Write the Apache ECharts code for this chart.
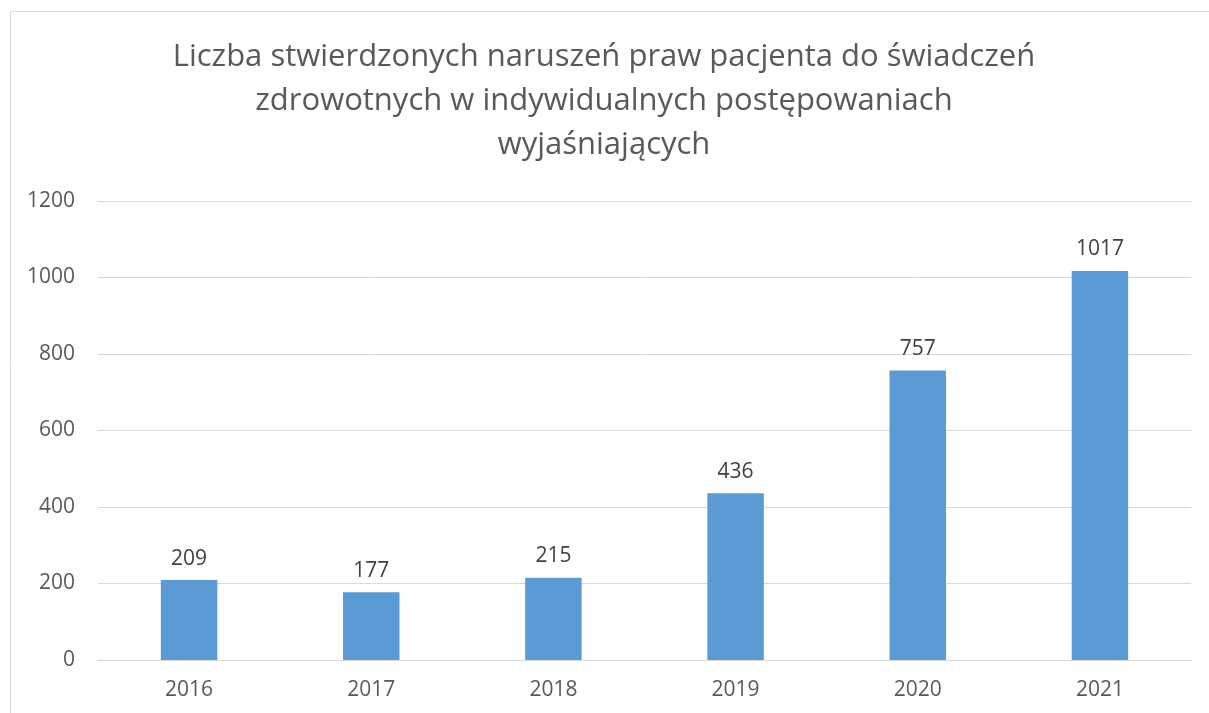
<!DOCTYPE html>
<html><head><meta charset="utf-8">
<script src="https://cdn.jsdelivr.net/npm/echarts@6/dist/echarts.min.js"></script>
<style>html,body{margin:0;padding:0;background:#fff}#c{width:1209px;height:713px}</style>
</head><body><div id="c"></div>
<script>
const titleText = "Liczba stwierdzonych naruszeń praw pacjenta do świadczeń\nzdrowotnych w indywidualnych postępowaniach\nwyjaśniających";
const categories = ["2016","2017","2018","2019","2020","2021"];
const values = [209,177,215,436,757,1017];
const yTicks = {min:0,max:1200,interval:200};
const FONT = "'Open Sans', sans-serif";
const chart = echarts.init(document.getElementById('c'), null, {renderer:'canvas'});
chart.setOption({
  animation:false,
  backgroundColor:'#fff',
  graphic:[
    {type:'rect',shape:{x:10.5,y:11.5,width:1220,height:720},style:{fill:'none',stroke:'#d9d9d9',lineWidth:1},silent:true},
    {type:'text',x:604,y:35,style:{text:titleText,align:'center',verticalAlign:'top',
      font:"31px 'Open Sans', sans-serif",fill:'#595959',lineHeight:44},silent:true}
  ],
  grid:{left:98,right:18,top:201,bottom:53},
  xAxis:{type:'category',data:categories,
    axisLine:{show:true,lineStyle:{color:'#d9d9d9',width:1}},axisTick:{show:false},
    axisLabel:{fontFamily:FONT,fontSize:21,color:'#595959',margin:20}},
  yAxis:{type:'value',min:yTicks.min,max:yTicks.max,interval:yTicks.interval,
    axisLine:{show:false},axisTick:{show:false},
    splitLine:{lineStyle:{color:'#d9d9d9',width:1}},
    axisLabel:{fontFamily:FONT,fontSize:21,color:'#595959',margin:23,formatter:v=>String(v)}},
  series:[{type:'bar',data:values,barWidth:'31%',itemStyle:{color:'#5B9BD5'},
    label:{show:true,position:'top',distance:11,fontFamily:FONT,fontSize:21,color:'#404040'}}]
});
</script></body></html>
